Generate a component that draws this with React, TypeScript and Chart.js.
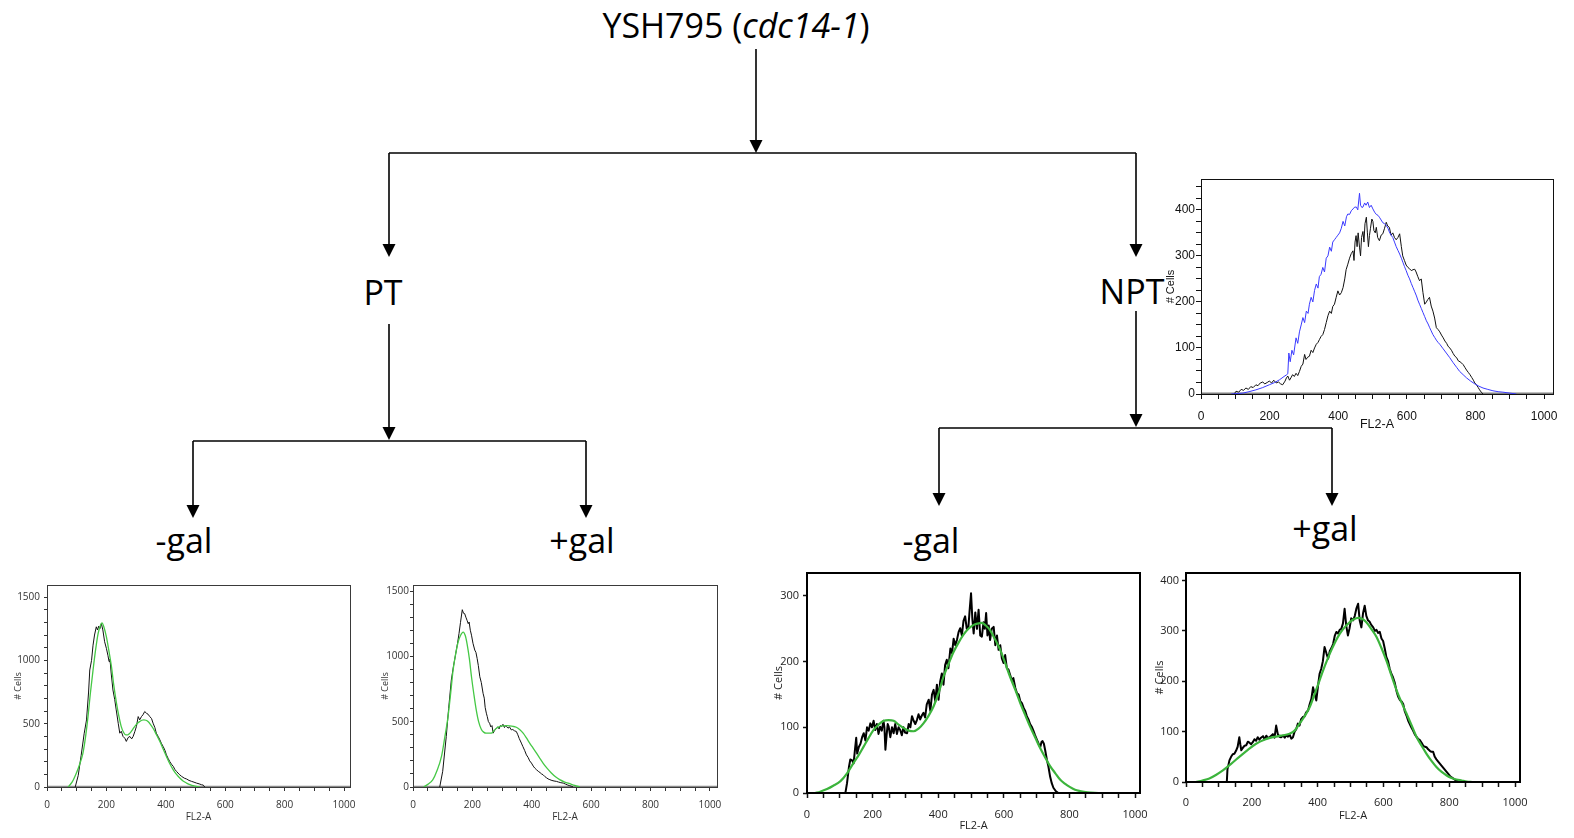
import React, { useEffect, useRef } from "react";
import { Chart, registerables } from "chart.js";

Chart.register(...registerables);

type Pt = [number, number];

// ---- Tree labels ----
const TITLE_MAIN = "YSH795 (";
const TITLE_ITALIC = "cdc14-1";
const TITLE_END = ")";
const BRANCH_LABELS = ["PT", "NPT"];
const LEAF_LABELS = ["-gal", "+gal", "-gal", "+gal"];
const X_AXIS_TITLE = "FL2-A";
const Y_AXIS_TITLE = "# Cells";

// ---- Histogram data: [FL2-A, # cells] ----
const zeroBaseline: Pt[] = [[0, 0], [1030, 0]];

const ptMinusGalData: Pt[] = [
  [95, 0], [105, 90], [115, 250], [125, 420], [133, 530], [140, 750], [144, 924], [150, 1000], [155, 1120],
  [160, 1200], [166, 1265], [170, 1240], [174, 1270], [178, 1250], [183, 1290], [188, 1240], [194, 1147],
  [200, 1094], [205, 1040], [209, 990], [212, 1010], [216, 900], [222, 766], [228, 690], [233, 609],
  [240, 500], [245, 425], [250, 440], [256, 399], [262, 385], [267, 360], [273, 390], [279, 399],
  [285, 380], [290, 399], [296, 440], [301, 478], [307, 556], [312, 530], [318, 556], [323, 570],
  [329, 596], [335, 582], [340, 575], [346, 556], [352, 540], [357, 504], [363, 470], [368, 425],
  [374, 400], [380, 372], [385, 345], [391, 320], [397, 290], [402, 254], [408, 225], [413, 202],
  [419, 180], [425, 163], [430, 140], [436, 123], [445, 100], [453, 84], [462, 70], [470, 63],
  [478, 52], [486, 45], [495, 38], [503, 31], [512, 25], [520, 18], [526, 15], [531, 0],
];
const ptMinusGalFit: Pt[] = [
  [71, 0], [85, 40], [99, 110], [110, 180], [121, 268], [130, 400], [138, 556], [146, 740], [155, 923],
  [164, 1090], [172, 1212], [179, 1270], [185, 1296], [192, 1260], [200, 1185], [208, 1080], [217, 950],
  [225, 800], [234, 661], [242, 560], [250, 477], [258, 430], [265, 412], [272, 412], [279, 425],
  [287, 450], [295, 477], [303, 500], [312, 517], [319, 527], [326, 530], [333, 527], [340, 517],
  [348, 495], [357, 464], [368, 415], [380, 359], [391, 300], [402, 241], [413, 185], [425, 136],
  [436, 100], [447, 71], [458, 48], [470, 31], [481, 18], [492, 10], [503, 4], [515, 0],
];

const ptPlusGalData: Pt[] = [
  [90, 0], [100, 120], [112, 386], [120, 600], [129, 818], [136, 920], [144, 1022], [150, 1100], [155, 1175],
  [160, 1260], [166, 1357], [170, 1330], [174, 1327], [178, 1300], [182, 1276], [186, 1250], [189, 1263],
  [193, 1200], [197, 1162], [202, 1100], [208, 1048], [212, 1030], [216, 984], [220, 930], [225, 844],
  [230, 800], [236, 717], [240, 680], [243, 610], [247, 565], [250, 540], [254, 500], [258, 488],
  [262, 460], [266, 470], [270, 412], [274, 430], [278, 440], [281, 450], [286, 460], [290, 445],
  [294, 470], [298, 463], [303, 480], [308, 455], [312, 470], [315, 463], [320, 450], [325, 460],
  [331, 437], [336, 440], [342, 430], [348, 425], [353, 400], [358, 370], [365, 336], [370, 310],
  [376, 280], [382, 246], [388, 225], [393, 200], [399, 183], [405, 160], [410, 145], [416, 132],
  [422, 120], [428, 110], [433, 100], [438, 94], [444, 80], [450, 70], [455, 62], [461, 56],
  [468, 50], [475, 46], [483, 43], [490, 38], [498, 33], [506, 30], [514, 22], [521, 15], [528, 10],
  [535, 5], [539, 0],
];
const ptPlusGalFit: Pt[] = [
  [36, 0], [50, 20], [67, 56], [80, 120], [96, 234], [107, 380], [118, 539], [127, 720], [135, 895],
  [143, 1010], [152, 1110], [160, 1160], [169, 1186], [176, 1160], [182, 1098], [190, 980], [197, 844],
  [205, 710], [213, 590], [221, 500], [230, 442], [238, 420], [247, 412], [256, 412], [264, 412],
  [272, 430], [281, 450], [292, 462], [303, 468], [315, 470], [326, 468], [337, 464], [348, 457],
  [360, 438], [371, 412], [382, 376], [393, 336], [405, 296], [416, 259], [427, 220], [438, 183],
  [452, 142], [466, 107], [480, 78], [494, 56], [511, 38], [528, 25], [545, 12], [562, 0],
];

const nptMinusGalData: Pt[] = [
  [0, 0], [117, 0], [122, 15], [128, 40], [132, 51], [137, 50], [142, 45], [147, 70], [150, 84], [153, 60],
  [158, 70], [163, 75], [168, 85], [173, 91], [178, 80], [183, 100], [188, 95], [193, 106], [198, 100],
  [203, 110], [208, 96], [213, 105], [218, 90], [223, 101], [228, 95], [233, 110], [236, 100], [239, 66],
  [243, 90], [246, 105], [249, 101], [254, 85], [259, 100], [264, 91], [269, 105], [274, 90], [279, 100],
  [284, 96], [289, 88], [294, 100], [299, 92], [305, 91], [310, 105], [315, 100], [320, 117], [325, 110],
  [330, 105], [335, 111], [340, 120], [345, 112], [350, 118], [355, 122], [360, 115], [365, 135],
  [371, 142], [376, 125], [381, 150], [386, 157], [391, 140], [396, 165], [401, 142], [406, 170],
  [411, 182], [416, 165], [421, 195], [426, 203], [431, 190], [437, 220], [442, 213], [447, 235],
  [452, 225], [457, 233], [462, 245], [467, 251], [472, 240], [477, 262], [482, 269], [487, 250],
  [492, 253], [496, 280], [500, 304], [504, 265], [508, 243], [513, 275], [518, 250], [523, 279],
  [528, 240], [533, 238], [538, 260], [542, 250], [546, 274], [550, 240], [554, 255], [558, 233],
  [563, 250], [569, 253], [574, 225], [579, 240], [584, 218], [589, 225], [594, 205], [599, 198],
  [604, 210], [609, 190], [614, 188], [619, 180], [624, 172], [629, 175], [635, 160], [640, 152],
  [645, 150], [650, 140], [655, 137], [660, 130], [665, 125], [670, 117], [675, 112], [680, 105],
  [685, 101], [690, 95], [695, 88], [701, 81], [706, 75], [711, 70], [715, 78], [718, 79], [722, 75],
  [726, 65], [731, 51], [736, 40], [741, 25], [746, 15], [751, 8], [758, 3], [766, 0], [1030, 0],
];
const nptMinusGalFit: Pt[] = [
  [25, 0], [40, 2], [61, 6], [80, 11], [102, 18], [122, 30], [142, 46], [158, 58], [173, 71], [188, 84],
  [203, 96], [218, 104], [234, 110], [249, 111], [264, 110], [279, 104], [294, 99], [310, 95], [325, 94],
  [340, 98], [355, 106], [370, 117], [386, 132], [401, 152], [416, 177], [431, 196], [447, 215],
  [462, 229], [477, 241], [492, 250], [508, 256], [520, 258], [533, 259], [545, 255], [558, 248],
  [573, 234], [589, 218], [604, 198], [619, 177], [635, 157], [650, 137], [665, 119], [680, 101],
  [696, 84], [711, 68], [726, 54], [741, 41], [757, 30], [772, 20], [787, 14], [802, 9], [817, 5],
  [832, 3], [855, 1], [888, 0],
];

const nptPlusGalData: Pt[] = [
  [0, 0], [124, 0], [126, 25], [132, 43], [137, 50], [142, 55], [147, 56], [152, 62], [157, 70], [162, 89],
  [165, 75], [168, 63], [173, 68], [178, 72], [183, 73], [188, 80], [193, 78], [198, 75], [203, 79],
  [208, 85], [213, 82], [218, 89], [223, 84], [228, 88], [234, 91], [239, 85], [244, 92], [249, 87],
  [254, 89], [259, 92], [264, 95], [269, 88], [274, 112], [279, 95], [284, 90], [289, 89], [295, 92],
  [300, 88], [305, 93], [310, 90], [315, 94], [320, 86], [325, 89], [330, 100], [335, 105], [340, 116],
  [345, 112], [350, 125], [355, 129], [360, 130], [365, 138], [371, 142], [376, 155], [381, 165],
  [386, 188], [391, 175], [396, 162], [401, 190], [406, 215], [411, 225], [416, 240], [421, 268],
  [427, 255], [432, 245], [437, 260], [442, 266], [447, 274], [452, 290], [457, 298], [462, 295],
  [467, 302], [472, 304], [477, 315], [482, 344], [487, 310], [492, 291], [497, 305], [502, 325],
  [508, 321], [513, 330], [518, 345], [523, 354], [528, 320], [533, 307], [538, 335], [543, 350],
  [548, 330], [553, 321], [558, 318], [563, 312], [569, 307], [574, 300], [579, 302], [584, 296],
  [589, 298], [594, 285], [599, 280], [604, 265], [609, 248], [614, 240], [619, 225], [624, 215],
  [629, 208], [634, 198], [640, 180], [645, 169], [650, 163], [655, 160], [660, 155], [665, 140],
  [670, 132], [675, 122], [680, 115], [685, 108], [690, 102], [695, 95], [700, 90], [706, 85],
  [711, 83], [716, 78], [721, 72], [726, 70], [731, 69], [736, 65], [741, 62], [746, 60], [751, 60],
  [756, 50], [761, 45], [767, 40], [772, 36], [777, 32], [782, 28], [787, 24], [792, 20], [797, 16],
  [802, 12], [807, 9], [812, 7], [820, 3], [832, 0], [1030, 0],
];
const nptPlusGalFit: Pt[] = [
  [30, 0], [50, 3], [71, 7], [91, 14], [112, 23], [137, 36], [162, 50], [188, 64], [213, 76], [238, 84],
  [264, 89], [289, 92], [315, 96], [330, 102], [345, 116], [360, 130], [376, 149], [391, 175],
  [406, 202], [421, 229], [437, 255], [452, 276], [467, 294], [482, 307], [497, 317], [510, 323],
  [523, 326], [535, 324], [548, 317], [563, 304], [579, 288], [594, 266], [609, 241], [624, 212],
  [640, 182], [655, 158], [670, 136], [686, 112], [701, 89], [716, 72], [731, 56], [746, 42], [761, 30],
  [777, 20], [792, 13], [807, 8], [822, 5], [838, 3], [853, 1], [870, 0],
];

const nptData: Pt[] = [
  [97, 0], [102, 6], [110, 4], [117, 10], [124, 8], [131, 13], [138, 10], [145, 16], [152, 14], [160, 20],
  [166, 18], [173, 24], [180, 26], [186, 22], [193, 25], [199, 28], [206, 24], [212, 30], [219, 24],
  [226, 26], [232, 22], [238, 20], [245, 28], [249, 35], [253, 39], [258, 30], [262, 35], [267, 42],
  [272, 38], [277, 45], [282, 40], [287, 49], [292, 60], [297, 65], [302, 86], [306, 75], [311, 80],
  [316, 82], [321, 95], [326, 90], [331, 100], [336, 108], [341, 112], [345, 118], [350, 125],
  [355, 129], [360, 140], [365, 155], [370, 170], [375, 180], [380, 175], [384, 190], [389, 195],
  [394, 210], [399, 224], [404, 215], [409, 220], [414, 231], [419, 250], [423, 270], [428, 282],
  [433, 295], [438, 305], [443, 311], [446, 290], [449, 330], [452, 344], [455, 320], [458, 350],
  [462, 319], [465, 300], [468, 340], [472, 353], [475, 330], [478, 370], [482, 384], [485, 350],
  [488, 320], [491, 344], [494, 360], [498, 380], [501, 375], [504, 355], [508, 350], [511, 362],
  [515, 340], [520, 333], [525, 345], [530, 348], [535, 360], [540, 373], [544, 365], [549, 362],
  [554, 345], [559, 350], [564, 340], [569, 335], [574, 340], [579, 348], [584, 320], [588, 300],
  [593, 290], [598, 280], [603, 275], [608, 272], [613, 268], [618, 270], [623, 271], [627, 265],
  [632, 255], [637, 246], [642, 250], [647, 220], [652, 195], [657, 200], [661, 205], [666, 210],
  [671, 191], [676, 180], [681, 165], [686, 144], [691, 140], [696, 135], [701, 128], [706, 122],
  [711, 115], [716, 110], [720, 104], [725, 100], [730, 95], [735, 88], [740, 82], [745, 79], [750, 72],
  [755, 70], [760, 67], [764, 64], [769, 58], [774, 52], [779, 47], [784, 42], [789, 36], [794, 30],
  [798, 24], [803, 20], [808, 14], [812, 9], [817, 4], [822, 0],
];
const nptOverlay: Pt[] = [
  [88, 0], [105, 1], [122, 2], [140, 5], [160, 9], [180, 14], [199, 20], [215, 25], [229, 31], [242, 38],
  [250, 42], [253, 44], [256, 89], [260, 70], [265, 95], [270, 85], [277, 122], [282, 110], [287, 135],
  [292, 150], [297, 166], [302, 155], [307, 180], [312, 175], [316, 195], [321, 210], [326, 200],
  [331, 225], [336, 239], [341, 230], [345, 255], [350, 260], [355, 275], [360, 265], [365, 295],
  [370, 300], [375, 319], [380, 310], [384, 330], [389, 335], [394, 340], [399, 345], [404, 350],
  [409, 360], [414, 375], [419, 365], [424, 385], [428, 391], [433, 390], [438, 398], [443, 402],
  [448, 406], [453, 406], [457, 400], [462, 436], [465, 410], [469, 405], [472, 406], [477, 415],
  [481, 410], [486, 417], [491, 405], [496, 410], [501, 402], [506, 395], [511, 390], [516, 388],
  [520, 384], [525, 378], [530, 372], [535, 370], [540, 366], [545, 360], [549, 352], [554, 345],
  [559, 340], [564, 330], [569, 320], [574, 312], [579, 304], [584, 295], [589, 285], [593, 277],
  [598, 268], [603, 258], [608, 250], [613, 240], [618, 231], [623, 222], [628, 213], [632, 204],
  [637, 195], [642, 186], [647, 177], [652, 168], [657, 159], [662, 152], [666, 145], [671, 137],
  [676, 129], [681, 123], [686, 117], [691, 112], [696, 108], [706, 98], [715, 89], [725, 79], [735, 68],
  [745, 58], [754, 49], [764, 42], [774, 35], [786, 28], [798, 22], [810, 17], [822, 13], [836, 10],
  [851, 7], [866, 5], [880, 4], [900, 2], [919, 0],
];

// ---- Panel configuration ----
interface SeriesCfg { data: Pt[]; color: string; width: number; smooth?: boolean }
interface PanelCfg {
  id: string;
  box: { left: number; top: number; width: number; height: number };
  area: { left: number; top: number; right: number; bottom: number };
  xMax: number; yMax: number; xStep: number; xEvery: number; yStep: number; yEvery: number;
  family: string; xTickSize: number; yTickSize: number; yTitleSize: number; xTitleSize: number;
  textColor: string; tickColor: string; tickWidth: number;
  xTickLen: number; xTickPad: number; yTickLen: number; yTickPad: number;
  yTitlePad: number; xTitlePad: number;
  frameColor: string; frameWidth: number;
  series: SeriesCfg[]; // drawn bottom to top
}

const SMALL_FONT = "'Open Sans', 'Noto Sans', sans-serif";
const ARIAL = "'Liberation Sans', Arial, sans-serif";

const PANELS: PanelCfg[] = [
  {
    id: "pt-minus",
    box: { left: 0, top: 575, width: 360, height: 255 },
    area: { left: 47, top: 585, right: 350, bottom: 787 },
    xMax: 1020, yMax: 1595, xStep: 50, xEvery: 200, yStep: 100, yEvery: 500,
    family: SMALL_FONT, xTickSize: 10, yTickSize: 10, yTitleSize: 9, xTitleSize: 10,
    textColor: "#333", tickColor: "#333", tickWidth: 1,
    xTickLen: 4, xTickPad: 8, yTickLen: 3, yTickPad: 4, yTitlePad: 12.6, xTitlePad: 7,
    frameColor: "#3a3a3a", frameWidth: 1,
    series: [
      { data: zeroBaseline, color: "#8a8a8a", width: 2.5 },
      { data: ptMinusGalData, color: "#111", width: 1 },
      { data: ptMinusGalFit, color: "#45c845", width: 1.3, smooth: true },
    ],
  },
  {
    id: "pt-plus",
    box: { left: 365, top: 575, width: 360, height: 255 },
    area: { left: 413, top: 585, right: 717, bottom: 787 },
    xMax: 1024, yMax: 1546, xStep: 50, xEvery: 200, yStep: 100, yEvery: 500,
    family: SMALL_FONT, xTickSize: 10, yTickSize: 10, yTitleSize: 9, xTitleSize: 10,
    textColor: "#333", tickColor: "#333", tickWidth: 1,
    xTickLen: 4, xTickPad: 8, yTickLen: 3, yTickPad: 1, yTitlePad: 14.6, xTitlePad: 7,
    frameColor: "#3a3a3a", frameWidth: 1,
    series: [
      { data: zeroBaseline, color: "#8a8a8a", width: 2.5 },
      { data: ptPlusGalData, color: "#111", width: 1 },
      { data: ptPlusGalFit, color: "#45c845", width: 1.3, smooth: true },
    ],
  },
  {
    id: "npt-minus",
    box: { left: 760, top: 563, width: 390, height: 275 },
    area: { left: 807, top: 573, right: 1140, bottom: 793 },
    xMax: 1015, yMax: 335, xStep: 50, xEvery: 200, yStep: 100, yEvery: 100,
    family: SMALL_FONT, xTickSize: 11, yTickSize: 11, yTitleSize: 11, xTitleSize: 11,
    textColor: "#222", tickColor: "#111", tickWidth: 1.5,
    xTickLen: 5, xTickPad: 10, yTickLen: 4, yTickPad: 4, yTitlePad: 12.4, xTitlePad: 5.4,
    frameColor: "#000", frameWidth: 2,
    series: [
      { data: nptMinusGalData, color: "#000", width: 2 },
      { data: nptMinusGalFit, color: "#3cb43c", width: 2.2, smooth: true },
    ],
  },
  {
    id: "npt-plus",
    box: { left: 1145, top: 563, width: 390, height: 275 },
    area: { left: 1186, top: 573, right: 1520, bottom: 782 },
    xMax: 1015, yMax: 415, xStep: 50, xEvery: 200, yStep: 100, yEvery: 100,
    family: SMALL_FONT, xTickSize: 11, yTickSize: 11, yTitleSize: 11, xTitleSize: 11,
    textColor: "#222", tickColor: "#111", tickWidth: 1.5,
    xTickLen: 5, xTickPad: 9, yTickLen: 4, yTickPad: 3, yTitlePad: 8.4, xTitlePad: 15.4,
    frameColor: "#000", frameWidth: 2,
    series: [
      { data: nptPlusGalData, color: "#000", width: 2 },
      { data: nptPlusGalFit, color: "#3cb43c", width: 2.2, smooth: true },
    ],
  },
  {
    id: "npt",
    box: { left: 1150, top: 170, width: 415, height: 265 },
    area: { left: 1201, top: 179, right: 1553, bottom: 394 },
    xMax: 1026, yMax: 467, xStep: 50, xEvery: 200, yStep: 25, yEvery: 100,
    family: ARIAL, xTickSize: 12, yTickSize: 12, yTitleSize: 11, xTitleSize: 12.5,
    textColor: "#111", tickColor: "#111", tickWidth: 1,
    xTickLen: 5, xTickPad: 10, yTickLen: 5, yTickPad: 1, yTitlePad: 14.4, xTitlePad: 2.5,
    frameColor: "#111", frameWidth: 1,
    series: [
      { data: zeroBaseline, color: "#808080", width: 3 },
      { data: nptData, color: "#111", width: 1 },
      { data: nptOverlay, color: "#3a3aff", width: 1 },
    ],
  },
];

function tickValues(max: number, step: number) {
  const out: { value: number }[] = [];
  for (let v = 0; v <= max + 1e-9; v += step) out.push({ value: v });
  return out;
}

function PanelChart({ cfg }: { cfg: PanelCfg }) {
  const ref = useRef<HTMLCanvasElement>(null);
  useEffect(() => {
    const canvas = ref.current;
    if (!canvas) return;
    const { box, area } = cfg;
    const framePlugin = {
      id: "frame_" + cfg.id.replace(/-/g, "_"),
      afterDraw(chart: any) {
        const { ctx, chartArea: a } = chart;
        ctx.save();
        ctx.strokeStyle = cfg.frameColor;
        ctx.lineWidth = cfg.frameWidth;
        const o = cfg.frameWidth % 2 === 1 ? 0.5 : 0;
        ctx.strokeRect(a.left + o, a.top + o, a.right - a.left, a.bottom - a.top);
        ctx.restore();
      },
    };
    const ordered = [...cfg.series].reverse(); // first dataset is drawn on top
    const chart = new Chart(canvas, {
      type: "line",
      data: {
        datasets: ordered.map((s) => ({
          data: s.data.map(([x, y]) => ({ x, y })),
          borderColor: s.color,
          backgroundColor: s.color,
          borderWidth: s.width,
          pointRadius: 0,
          fill: false,
          tension: s.smooth ? 0.4 : 0,
          cubicInterpolationMode: s.smooth ? "monotone" : "default",
          borderJoinStyle: "round",
        })),
      },
      options: {
        responsive: false,
        animation: false,
        devicePixelRatio: 1,
        layout: {
          padding: { left: 0, top: area.top - box.top, right: box.left + box.width - area.right, bottom: 0 },
        },
        plugins: { legend: { display: false }, tooltip: { enabled: false }, title: { display: false } },
        scales: {
          x: {
            type: "linear",
            min: 0,
            max: cfg.xMax,
            afterBuildTicks: (s: any) => {
              s.ticks = tickValues(cfg.xMax, cfg.xStep);
            },
            ticks: {
              autoSkip: false,
              maxRotation: 0,
              minRotation: 0,
              padding: cfg.xTickPad,
              color: cfg.textColor,
              font: { family: cfg.family, size: cfg.xTickSize },
              callback: (v: any) => {
                const n = Math.round(Number(v));
                return n % cfg.xEvery === 0 ? String(n) : "";
              },
            },
            grid: {
              drawOnChartArea: false,
              drawTicks: true,
              tickLength: cfg.xTickLen,
              tickColor: cfg.tickColor,
              tickWidth: cfg.tickWidth,
            },
            border: { display: false },
            title: {
              display: true,
              text: X_AXIS_TITLE,
              color: cfg.textColor,
              font: { family: cfg.family, size: cfg.xTitleSize },
              padding: { top: 0, bottom: cfg.xTitlePad },
            },
            afterFit: (s: any) => {
              s.height = box.top + box.height - area.bottom;
              s.paddingLeft = 0;
              s.paddingRight = 0;
            },
          },
          y: {
            type: "linear",
            min: 0,
            max: cfg.yMax,
            afterBuildTicks: (s: any) => {
              s.ticks = tickValues(cfg.yMax, cfg.yStep);
            },
            ticks: {
              autoSkip: false,
              padding: cfg.yTickPad,
              color: cfg.textColor,
              font: { family: cfg.family, size: cfg.yTickSize },
              callback: (v: any) => {
                const n = Math.round(Number(v));
                return n % cfg.yEvery === 0 ? String(n) : "";
              },
            },
            grid: {
              drawOnChartArea: false,
              drawTicks: true,
              tickLength: cfg.yTickLen,
              tickColor: cfg.tickColor,
              tickWidth: cfg.tickWidth,
            },
            border: { display: false },
            title: {
              display: true,
              text: Y_AXIS_TITLE,
              color: cfg.textColor,
              font: { family: cfg.family, size: cfg.yTitleSize },
              padding: { top: cfg.yTitlePad, bottom: 0 },
            },
            afterFit: (s: any) => {
              s.width = area.left - box.left;
              s.paddingTop = 0;
              s.paddingBottom = 0;
            },
          },
        },
      } as any,
      plugins: [framePlugin],
    });
    return () => chart.destroy();
  }, [cfg]);
  const { box } = cfg;
  return (
    <canvas
      ref={ref}
      width={box.width}
      height={box.height}
      style={{ position: "absolute", left: box.left, top: box.top, width: box.width, height: box.height }}
    />
  );
}

function Arrow({ x, y1, y2 }: { x: number; y1: number; y2: number }) {
  return (
    <g>
      <line x1={x} y1={y1} x2={x} y2={y2 - 12} stroke="#000" strokeWidth={1.6} />
      <polygon points={`${x - 6.5},${y2 - 13} ${x + 6.5},${y2 - 13} ${x},${y2}`} fill="#000" />
    </g>
  );
}

const TREE_FONT = "'Open Sans', 'Noto Sans', sans-serif";

export default function App() {
  return (
    <div
      style={{
        position: "absolute",
        left: 0,
        top: 0,
        width: 1574,
        height: 838,
        overflow: "hidden",
        background: "#fff",
      }}
    >
      <svg width={1574} height={838} style={{ position: "absolute", left: 0, top: 0 }}>
        <g fontFamily={TREE_FONT} fontSize={34} fill="#000" textAnchor="middle">
          <text x={736} y={38}>
            {TITLE_MAIN}
            <tspan fontStyle="italic">{TITLE_ITALIC}</tspan>
            {TITLE_END}
          </text>
          <text x={383} y={305}>{BRANCH_LABELS[0]}</text>
          <text x={1132} y={304}>{BRANCH_LABELS[1]}</text>
          <text x={184} y={553}>{LEAF_LABELS[0]}</text>
          <text x={582} y={553}>{LEAF_LABELS[1]}</text>
          <text x={931} y={553}>{LEAF_LABELS[2]}</text>
          <text x={1325} y={541}>{LEAF_LABELS[3]}</text>
        </g>
        <Arrow x={756} y1={49} y2={153} />
        <line x1={389} y1={153} x2={1136} y2={153} stroke="#000" strokeWidth={1.6} />
        <Arrow x={389} y1={153} y2={257} />
        <Arrow x={1136} y1={153} y2={257} />
        <Arrow x={389} y1={324} y2={440} />
        <line x1={193} y1={441} x2={586} y2={441} stroke="#000" strokeWidth={1.6} />
        <Arrow x={193} y1={441} y2={518} />
        <Arrow x={586} y1={441} y2={518} />
        <Arrow x={1136} y1={311} y2={427} />
        <line x1={939} y1={428} x2={1332} y2={428} stroke="#000" strokeWidth={1.6} />
        <Arrow x={939} y1={428} y2={506} />
        <Arrow x={1332} y1={428} y2={506} />
      </svg>
      {PANELS.map((p) => (
        <PanelChart key={p.id} cfg={p} />
      ))}
    </div>
  );
}
